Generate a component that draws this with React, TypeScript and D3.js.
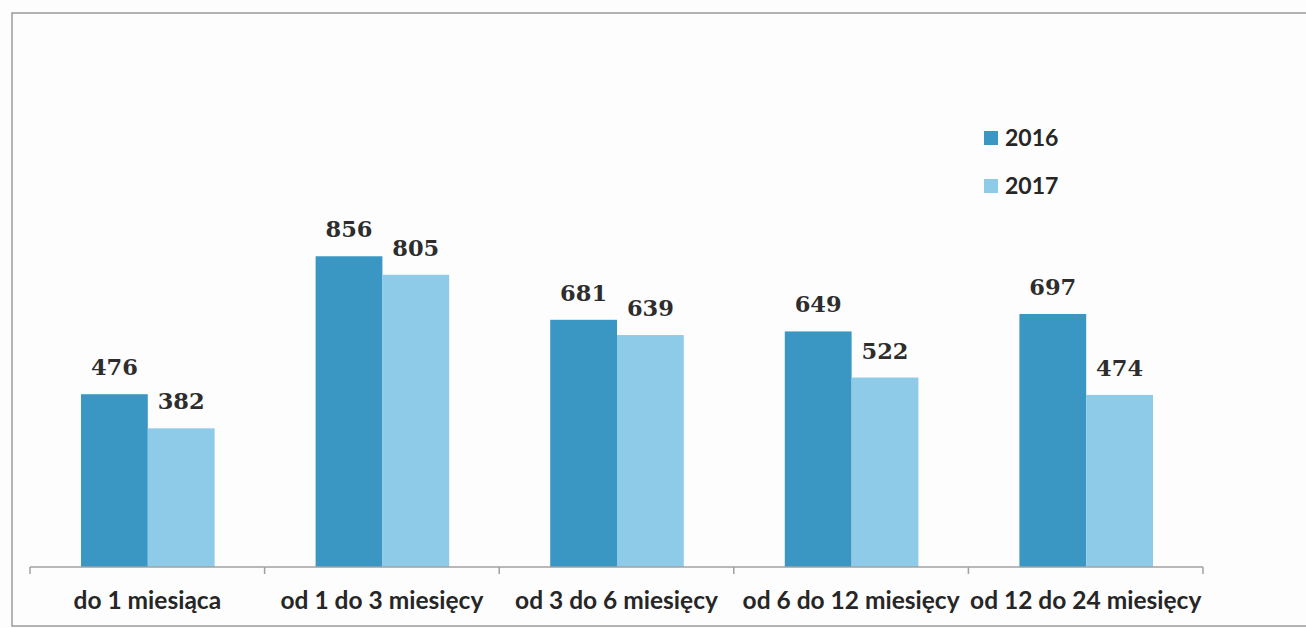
import React from "react";
import * as d3 from "d3";

const categories = [
  "do 1 miesiąca",
  "od 1 do 3 miesięcy",
  "od 3 do 6 miesięcy",
  "od 6 do 12 miesięcy",
  "od 12 do 24 miesięcy",
];
const seriesNames = ["2016", "2017"];
const values2016 = [476, 856, 681, 649, 697];
const values2017 = [382, 805, 639, 522, 474];
const seriesValues = [values2016, values2017];
const seriesColors = ["#3a97c3", "#8ecbe9"];

const W = 1306;
const H = 628;

export default function App() {
  const x = d3.scaleBand<string>().domain(categories).range([30, 1203]).paddingInner(0).paddingOuter(0);
  const bw = x.bandwidth();
  const inner = d3.scaleBand<string>().domain(seriesNames).range([51, bw - 50]).padding(0);
  const y = d3.scaleLinear().domain([0, 1000]).range([567, 204]);
  const baseY = y(0);
  const ticks = categories.map((c) => x(c) as number).concat([(x(categories[categories.length - 1]) as number) + bw]);

  return (
    <svg
      width={W}
      height={H}
      style={{ position: "absolute", left: 0, top: 0, background: "#fdfdfd" }}
    >
      <rect x={0} y={0} width={W} height={H} fill="#fdfdfd" />
      {/* frame */}
      <path d={`M${W + 2},13 H12 V626 H${W + 2}`} fill="none" stroke="#9a9a9a" strokeWidth={1.5} />
      {/* bars */}
      {categories.map((c, ci) =>
        seriesNames.map((s, si) => {
          const v = seriesValues[si][ci];
          const bx = (x(c) as number) + (inner(s) as number);
          return (
            <g key={c + s}>
              <rect x={bx} y={y(v)} width={inner.bandwidth()} height={baseY - y(v)} fill={seriesColors[si]} />
              <text
                x={bx + inner.bandwidth() / 2}
                y={y(v) - 19}
                textAnchor="middle"
                fontFamily="'DejaVu Serif', serif"
                fontWeight="bold"
                fontSize={22.5}
                fill="#2d2d2d"
              >
                {v}
              </text>
            </g>
          );
        })
      )}
      {/* axis */}
      <line x1={ticks[0]} x2={ticks[ticks.length - 1]} y1={baseY} y2={baseY} stroke="#a0a0a0" strokeWidth={1.5} />
      {ticks.map((t, i) => (
        <line key={i} x1={t} x2={t} y1={baseY} y2={baseY + 7} stroke="#a0a0a0" strokeWidth={1.5} />
      ))}
      {categories.map((c) => (
        <text
          key={c}
          x={(x(c) as number) + bw / 2}
          y={609}
          textAnchor="middle"
          fontFamily="Lato, sans-serif"
          fontWeight="bold"
          fontSize={24.5}
          fill="#262626"
        >
          {c}
        </text>
      ))}
      {/* legend */}
      {seriesNames.map((s, i) => (
        <g key={s} transform={`translate(984, ${131 + i * 48})`}>
          <rect x={0} y={0} width={14} height={14} fill={seriesColors[i]} />
          <text x={21} y={15} fontFamily="Lato, sans-serif" fontWeight="bold" fontSize={23} fill="#262626">
            {s}
          </text>
        </g>
      ))}
    </svg>
  );
}
